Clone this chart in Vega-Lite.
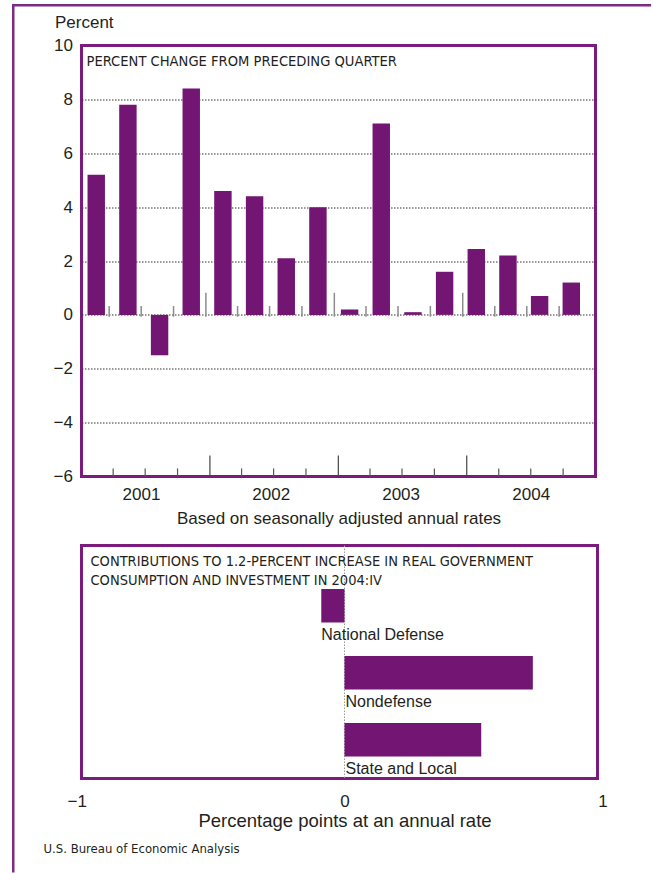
{
  "$schema": "https://vega.github.io/schema/vega-lite/v6.json",
  "padding": {"left": 9.5, "top": 0.5, "right": 0, "bottom": 0},
  "background": "white",
  "bounds": "flush",
  "spacing": 69,
  "title": {"text": "U.S. Bureau of Economic Analysis", "orient": "bottom", "anchor": "start", "frame": "bounds", "offset": -32, "dx": 33, "fontSize": 13, "font": "Liberation Sans Narrow, DejaVu Sans Condensed, Liberation Sans", "fontWeight": "normal", "color": "#231f20"},
  "vconcat": [
    {
      "width": 514,
      "height": 431,
      "view": {"stroke": "#7a1b7d", "strokeWidth": 3},
      "title": {"text": "PERCENT CHANGE FROM PRECEDING QUARTER", "anchor": "start", "frame": "group", "orient": "top", "baseline": "top", "offset": -65.5, "dx": 5, "fontSize": 14.6, "font": "Liberation Sans Narrow, DejaVu Sans Condensed, Liberation Sans", "fontWeight": "normal", "color": "#231f20"},
      "data": {"values": [
        {"period": "2001 Q1", "date": "2001-01-01", "year": 2001, "qtr": 1, "value": 5.2},
        {"period": "2001 Q2", "date": "2001-04-01", "year": 2001, "qtr": 2, "value": 7.8},
        {"period": "2001 Q3", "date": "2001-07-01", "year": 2001, "qtr": 3, "value": -1.5},
        {"period": "2001 Q4", "date": "2001-10-01", "year": 2001, "qtr": 4, "value": 8.4},
        {"period": "2002 Q1", "date": "2002-01-01", "year": 2002, "qtr": 1, "value": 4.6},
        {"period": "2002 Q2", "date": "2002-04-01", "year": 2002, "qtr": 2, "value": 4.4},
        {"period": "2002 Q3", "date": "2002-07-01", "year": 2002, "qtr": 3, "value": 2.1},
        {"period": "2002 Q4", "date": "2002-10-01", "year": 2002, "qtr": 4, "value": 4.0},
        {"period": "2003 Q1", "date": "2003-01-01", "year": 2003, "qtr": 1, "value": 0.2},
        {"period": "2003 Q2", "date": "2003-04-01", "year": 2003, "qtr": 2, "value": 7.1},
        {"period": "2003 Q3", "date": "2003-07-01", "year": 2003, "qtr": 3, "value": 0.1},
        {"period": "2003 Q4", "date": "2003-10-01", "year": 2003, "qtr": 4, "value": 1.6},
        {"period": "2004 Q1", "date": "2004-01-01", "year": 2004, "qtr": 1, "value": 2.45},
        {"period": "2004 Q2", "date": "2004-04-01", "year": 2004, "qtr": 2, "value": 2.2},
        {"period": "2004 Q3", "date": "2004-07-01", "year": 2004, "qtr": 3, "value": 0.7},
        {"period": "2004 Q4", "date": "2004-10-01", "year": 2004, "qtr": 4, "value": 1.2}
      ]},
      "layer": [
        {
          "mark": {"type": "bar", "color": "#731572"},
          "encoding": {
            "x": {"field": "period", "type": "ordinal", "sort": null, "axis": null, "scale": {"paddingInner": 0.45, "paddingOuter": 0.34, "align": 0.28}},
            "y": {"field": "value", "type": "quantitative", "scale": {"domain": [-6, 10], "nice": false, "zero": false},
              "axis": {"values": [-6, -4, -2, 0, 2, 4, 6, 8, 10], "grid": true, "gridDash": [1.5, 1.5], "gridColor": "#333333", "gridWidth": 1,
                "gridOpacity": {"condition": {"test": "datum.value == -6 || datum.value == 10", "value": 0}, "value": 1},
                "ticks": false, "domain": false, "labelFontSize": 17, "labelPadding": 9, "labelColor": "#231f20",
                "title": "Percent", "titleAngle": 0, "titleAlign": "left", "titleBaseline": "middle", "titleX": -27, "titleY": -23, "titleFontSize": 17, "titleFontWeight": "normal", "titleColor": "#231f20"}}
          }
        },
        {
          "transform": [{"filter": "datum.qtr != 1"}],
          "mark": {"type": "rule", "color": "#555555", "strokeWidth": 1.2},
          "encoding": {
            "x": {"field": "date", "type": "temporal", "scale": {"type": "utc", "domain": [{"year": 2001, "month": 1, "date": 1, "utc": true}, {"year": 2005, "month": 1, "date": 1, "utc": true}]},
              "axis": {"orient": "bottom", "values": [{"year": 2001, "month": 6, "date": 19, "utc": true}, {"year": 2002, "month": 6, "date": 23, "utc": true}, {"year": 2003, "month": 6, "date": 27, "utc": true}, {"year": 2004, "month": 7, "date": 1, "utc": true}],
                "labelExpr": "utcFormat(datum.value, '%Y')", "labelOverlap": false, "labelFlush": false, "ticks": false, "domain": false, "grid": false, "labelFontSize": 17, "labelPadding": 10, "labelColor": "#231f20",
                "title": "Based on seasonally adjusted annual rates", "titleFontSize": 17, "titleFontWeight": "normal", "titlePadding": 8, "titleColor": "#231f20"}},
            "y": {"datum": -6},
            "y2": {"datum": -5.7}
          }
        },
        {
          "transform": [{"filter": "datum.qtr == 1 && datum.year > 2001"}],
          "mark": {"type": "rule", "color": "#444444", "strokeWidth": 1.2},
          "encoding": {
            "x": {"field": "date", "type": "temporal", "axis": null, "scale": {"type": "utc", "domain": [{"year": 2001, "month": 1, "date": 1, "utc": true}, {"year": 2005, "month": 1, "date": 1, "utc": true}]}},
            "y": {"datum": -6},
            "y2": {"datum": -5.22}
          }
        },
        {
          "transform": [{"filter": "datum.qtr != 1"}],
          "mark": {"type": "rule", "color": "#8c8c8c", "strokeWidth": 1.5},
          "encoding": {
            "x": {"field": "date", "type": "temporal", "axis": null, "scale": {"type": "utc", "range": [-4, 510], "domain": [{"year": 2001, "month": 1, "date": 1, "utc": true}, {"year": 2005, "month": 1, "date": 1, "utc": true}]}},
            "y": {"datum": -0.07},
            "y2": {"datum": 0.33}
          }
        },
        {
          "transform": [{"filter": "datum.qtr == 1 && datum.year > 2001"}],
          "mark": {"type": "rule", "color": "#8c8c8c", "strokeWidth": 1.5},
          "encoding": {
            "x": {"field": "date", "type": "temporal", "axis": null, "scale": {"type": "utc", "range": [-4, 510], "domain": [{"year": 2001, "month": 1, "date": 1, "utc": true}, {"year": 2005, "month": 1, "date": 1, "utc": true}]}},
            "y": {"datum": -0.07},
            "y2": {"datum": 0.82}
          }
        },
        {
          "data": {"values": [{}]},
          "mark": {"type": "rule", "color": "#7f2a82", "strokeWidth": 2.5},
          "encoding": {
            "x": {"datum": {"year": 2000, "month": 6, "date": 21, "utc": true}, "type": "temporal", "axis": null, "scale": {"type": "utc", "domain": [{"year": 2001, "month": 1, "date": 1, "utc": true}, {"year": 2005, "month": 1, "date": 1, "utc": true}]}},
            "x2": {"datum": {"year": 2005, "month": 6, "date": 8, "utc": true}},
            "y": {"datum": 11.49}
          }
        },
        {
          "data": {"values": [{}]},
          "mark": {"type": "rule", "color": "#7f2a82", "strokeWidth": 2.5},
          "encoding": {
            "x": {"datum": {"year": 2000, "month": 6, "date": 21, "utc": true}, "type": "temporal", "axis": null, "scale": {"type": "utc", "domain": [{"year": 2001, "month": 1, "date": 1, "utc": true}, {"year": 2005, "month": 1, "date": 1, "utc": true}]}},
            "y": {"datum": 11.54},
            "y2": {"datum": -20.7}
          }
        }
      ],
      "resolve": {"scale": {"x": "independent"}, "axis": {"x": "independent"}}
    },
    {
      "width": 516,
      "height": 233,
      "view": {"stroke": "#7a1b7d", "strokeWidth": 3},
      "title": {"text": ["CONTRIBUTIONS TO 1.2-PERCENT INCREASE IN REAL GOVERNMENT", "CONSUMPTION AND INVESTMENT IN 2004:IV"], "anchor": "start", "frame": "group", "orient": "top", "baseline": "top", "offset": -44, "dx": 9, "fontSize": 14.5, "lineHeight": 19.3, "font": "Liberation Sans Narrow, DejaVu Sans Condensed, Liberation Sans", "fontWeight": "normal", "color": "#231f20"},
      "data": {"values": [
        {"component": "National Defense", "value": -0.09},
        {"component": "Nondefense", "value": 0.73},
        {"component": "State and Local", "value": 0.53}
      ]},
      "layer": [
        {
          "data": {"values": [{}]},
          "mark": {"type": "rule", "color": "#999999", "strokeDash": [1.5, 1.5], "strokeWidth": 1},
          "encoding": {"x": {"datum": 0, "type": "quantitative"}}
        },
        {
          "mark": {"type": "bar", "color": "#731572"},
          "encoding": {
            "y": {"field": "component", "type": "nominal", "sort": null, "axis": null, "scale": {"paddingInner": 0.5, "paddingOuter": 0.489, "align": 0.664}},
            "x": {"field": "value", "type": "quantitative", "scale": {"domain": [-1, 1], "range": [5, 521], "nice": false, "zero": false},
              "axis": {"values": [-1, 0, 1], "labelExpr": "replace(datum.label, '.0', '')", "labelOverlap": false, "labelFlush": false, "grid": false, "ticks": false, "domain": false, "labelFontSize": 17, "labelPadding": 15, "labelColor": "#231f20",
                "labelAlign": {"condition": {"test": "datum.value < 0", "value": "right"}, "value": "center"},
                "title": "Percentage points at an annual rate", "titleFontSize": 18.5, "titleFontWeight": "normal", "titlePadding": 1.5, "titleColor": "#231f20"}}
          }
        },
        {
          "transform": [{"filter": "datum.value < 0"}],
          "mark": {"type": "text", "align": "left", "baseline": "middle", "fontSize": 16, "color": "#231f20"},
          "encoding": {
            "x": {"field": "value", "type": "quantitative"},
            "y": {"field": "component", "type": "nominal", "sort": null, "bandPosition": 1.38},
            "text": {"field": "component"}
          }
        },
        {
          "transform": [{"filter": "datum.value >= 0"}],
          "mark": {"type": "text", "align": "left", "baseline": "middle", "fontSize": 16, "color": "#231f20", "dx": 1},
          "encoding": {
            "x": {"datum": 0, "type": "quantitative"},
            "y": {"field": "component", "type": "nominal", "sort": null, "bandPosition": 1.38},
            "text": {"field": "component"}
          }
        }
      ]
    }
  ],
  "config": {
    "font": "Liberation Sans",
    "view": {"stroke": null},
    "axis": {"labelFont": "Liberation Sans", "titleFont": "Liberation Sans"}
  }
}
